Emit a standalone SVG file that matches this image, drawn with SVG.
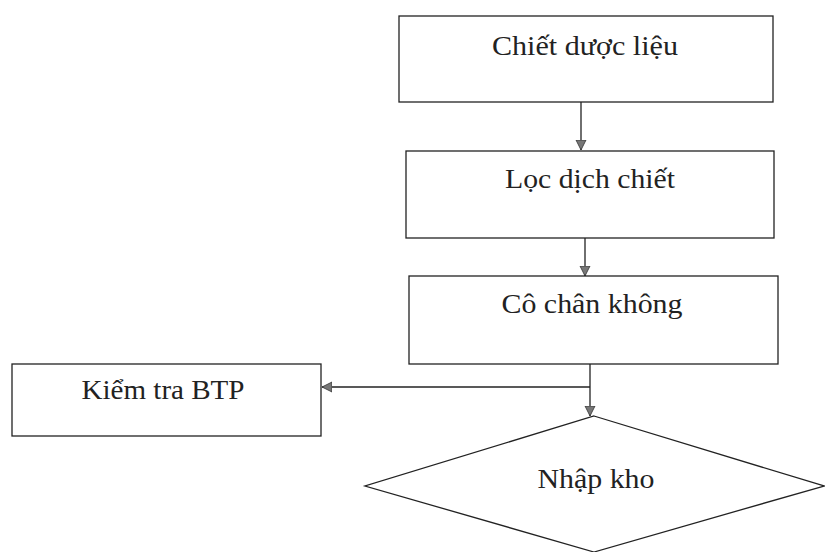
<svg xmlns="http://www.w3.org/2000/svg" width="825" height="552" viewBox="0 0 825 552">
<style>
.box{fill:#fff;stroke:#222;stroke-width:1.3}
.lbl{font-family:"Liberation Serif","Times New Roman",serif;font-size:27px;fill:#222;text-anchor:middle}
.con{fill:none;stroke:#222;stroke-width:1.3}
</style>
<defs>
<marker id="ah" viewBox="0 0 10 10" refX="10" refY="5" markerWidth="10" markerHeight="12" markerUnits="userSpaceOnUse" orient="auto">
<path d="M0,0 L10,5 L0,10 Z" fill="#777" stroke="#333" stroke-width="0.8"/>
</marker>
</defs>
<rect width="825" height="552" fill="#fff"/>
<g id="connectors">
<line class="con" x1="581" y1="102" x2="581" y2="150" marker-end="url(#ah)"/>
<line class="con" x1="585" y1="238" x2="585" y2="276" marker-end="url(#ah)"/>
<line class="con" x1="590" y1="364" x2="590" y2="416" marker-end="url(#ah)"/>
<polyline class="con" points="590,387 322,387" marker-end="url(#ah)"/>
</g>
<g id="n1">
<rect class="box" x="399" y="16" width="374" height="86"/>
<text class="lbl" x="585" y="55" textLength="186" lengthAdjust="spacingAndGlyphs">Chiết dược liệu</text>
</g>
<g id="n2">
<rect class="box" x="406" y="151" width="368" height="87"/>
<text class="lbl" x="590" y="188" textLength="170" lengthAdjust="spacingAndGlyphs">Lọc dịch chiết</text>
</g>
<g id="n3">
<rect class="box" x="409" y="276" width="369" height="88"/>
<text class="lbl" x="592" y="313" textLength="181" lengthAdjust="spacingAndGlyphs">Cô chân không</text>
</g>
<g id="n4">
<rect class="box" x="12" y="364" width="309" height="72"/>
<text class="lbl" x="163" y="399" textLength="163" lengthAdjust="spacingAndGlyphs">Kiểm tra BTP</text>
</g>
<g id="n5">
<polygon class="box" points="594,416 824,486 594,552 365,486"/>
<text class="lbl" x="596" y="488" textLength="117" lengthAdjust="spacingAndGlyphs">Nhập kho</text>
</g>
</svg>
